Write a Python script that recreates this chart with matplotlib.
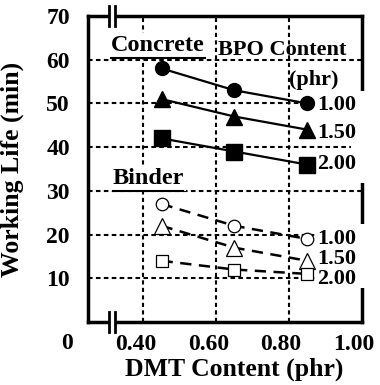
import matplotlib
matplotlib.use('Agg')
import matplotlib.pyplot as plt
import matplotlib.transforms as mtransforms
from matplotlib.patches import Rectangle

plt.rcParams.update({
    'font.family': 'Liberation Serif',
    'font.weight': 'bold',
})

dmt = [0.45, 0.65, 0.85]
bpo_labels = ['1.00', '1.50', '2.00']

concrete = {
    '1.00': [58, 53, 50],
    '1.50': [51, 47, 44],
    '2.00': [42, 39, 36],
}
binder = {
    '1.00': [27, 22, 19],
    '1.50': [22, 17, 14],
    '2.00': [14, 12, 11],
}

markers = {'1.00': ('o', 10, 9), '1.50': ('^', 12, 12), '2.00': ('s', 11, 9)}
concrete_label_y = [49.7, 43.2, 36.2]
binder_label_y = [19.0, 14.4, 9.8]

fig = plt.figure(figsize=(3.8, 3.85), dpi=100)
ax = fig.add_axes([88/380, 1 - 322/385, 274/380, 306/385])

ax.set_xlim(0.248, 1.0)
ax.set_ylim(0, 70)

# grid
for gx in [0.4, 0.6, 0.8]:
    ax.axvline(gx, color='black', lw=1.5, ls=(0, (2, 1.6)), zorder=1)
for gy in [10, 20, 30, 40, 50, 60]:
    ax.axhline(gy, color='black', lw=1.5, ls=(0, (2.2, 1.6)), zorder=1)

for lab in bpo_labels:
    m, ms_c, ms_b = markers[lab]
    ax.plot(dmt, concrete[lab], color='black', lw=1.6, marker=m, ms=ms_c,
            mfc='black', mec='black', zorder=6)
    ax.plot(dmt, binder[lab], color='black', lw=1.8, ls=(0, (4.5, 3)),
            marker=m, ms=ms_b, mfc='white', mec='black', mew=0.9, zorder=6)

# white patches hiding the right spine behind the labels
ax.add_patch(Rectangle((0.97, 31.8), 0.05, 21.1, facecolor='white',
                       edgecolor='none', clip_on=False, zorder=4))
ax.add_patch(Rectangle((0.97, 7.8), 0.05, 14.6, facecolor='white',
                       edgecolor='none', clip_on=False, zorder=4))

wbox = dict(facecolor='white', edgecolor='none', pad=1)
for lab, y in zip(bpo_labels, concrete_label_y):
    ax.text(0.877, y, lab, fontsize=16, fontweight='bold', va='center',
            ha='left', bbox=wbox, zorder=5)
for lab, y in zip(bpo_labels, binder_label_y):
    ax.text(0.877, y, lab, fontsize=16, fontweight='bold', va='center',
            ha='left', bbox=wbox, zorder=5)

ax.text(0.312, 63.3, 'Concrete', fontsize=17.5, fontweight='bold',
        va='center', ha='left', bbox=wbox, zorder=5)
ax.plot([0.312, 0.570], [60.4, 60.4], color='black', lw=1.5, zorder=6,
        clip_on=False)
ax.text(0.606, 62.3, 'BPO Content', fontsize=16, fontweight='bold',
        va='center', ha='left', zorder=5)
ax.text(0.80, 55.3, '(phr)', fontsize=16, fontweight='bold',
        va='center', ha='left', zorder=5)
ax.text(0.316, 32.8, 'Binder', fontsize=17.5, fontweight='bold',
        va='center', ha='left', bbox=wbox, zorder=5)
ax.plot([0.316, 0.508], [29.9, 29.9], color='black', lw=1.5, zorder=6,
        clip_on=False)

for s in ax.spines.values():
    s.set_linewidth(2.5)

# axis break marks on top and bottom spines
for yb in [0, 1]:
    ax.add_patch(Rectangle((0.077, yb - 0.01), 0.021, 0.02, facecolor='white',
                           edgecolor='none', transform=ax.transAxes,
                           clip_on=False, zorder=4))
    for xb in [0.077, 0.098]:
        ax.plot([xb, xb], [yb - 0.033, yb + 0.033], color='black', lw=2,
                transform=ax.transAxes, clip_on=False, zorder=5)

ax.set_xticks([0.4, 0.6, 0.8, 1.0])
ax.set_xticklabels(['0.40', '0.60', '0.80', '1.00'])
ax.set_yticks([10, 20, 30, 40, 50, 60, 70])
ax.tick_params(length=0, labelsize=17, pad=9)
ax.tick_params(axis='y', pad=13)
shift = mtransforms.ScaledTranslation(-8/100, 0, fig.dpi_scale_trans)
for t in ax.get_xticklabels():
    t.set_transform(t.get_transform() + shift)
for t in ax.get_xticklabels() + ax.get_yticklabels():
    t.set_fontweight('bold')

ax.text(-0.077, -0.036, '0', fontsize=17, fontweight='bold', ha='center',
        va='top', transform=ax.transAxes)

ax.set_xlabel('DMT Content (phr)', fontsize=18.5, fontweight='bold')
ax.set_ylabel('Working Life (min)', fontsize=18.5, fontweight='bold')
ax.xaxis.set_label_coords(0.533, -0.115)
ax.yaxis.set_label_coords(-0.235, 0.5)

fig.savefig('out.png', dpi=100)
